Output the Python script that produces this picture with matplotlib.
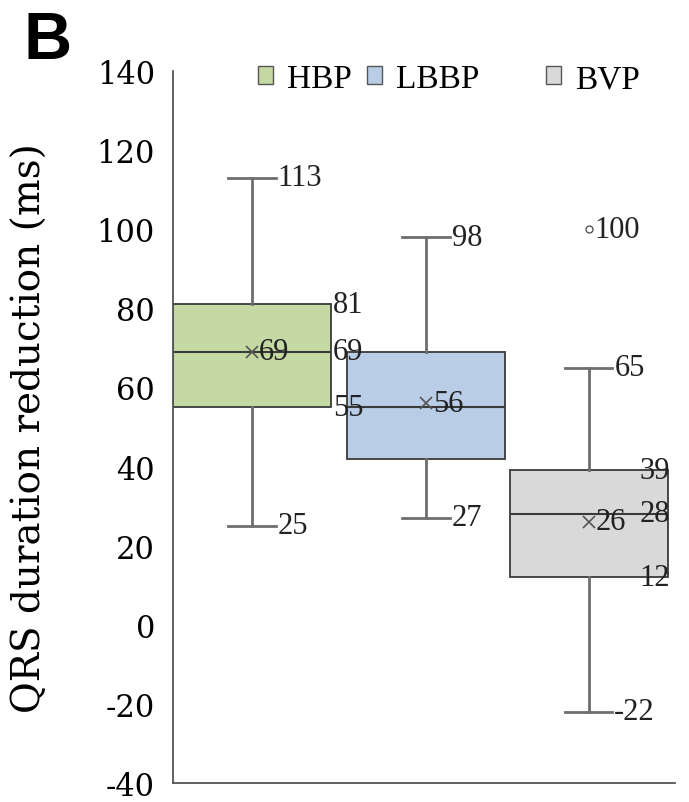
import matplotlib
matplotlib.use('Agg')
import matplotlib.pyplot as plt
from matplotlib.patches import Patch

# QRS duration reduction per pacing mode (ms)
groups = ['HBP', 'LBBP', 'BVP']
mins = [25, 27, -22]
q1s = [55, 42, 12]
medians = [69, 55, 28]
q3s = [81, 69, 39]
maxs = [113, 98, 65]
means = [69, 56, 26]
outliers = [[], [], [100]]

face_colors = ['#c4d9a3', '#b9cde6', '#d9d9d9']
positions = [0, 1.10, 2.13]
box_width = 1.0

plt.rcParams['font.family'] = 'DejaVu Serif'
plt.rcParams['axes.unicode_minus'] = False

fig = plt.figure(figsize=(6.89, 8.03), dpi=100)
ax = fig.add_axes([0.2511, 0.0237, 0.7286, 0.8867])

stats = []
for i, g in enumerate(groups):
    stats.append(dict(label=g, whislo=mins[i], q1=q1s[i], med=medians[i],
                      q3=q3s[i], whishi=maxs[i], mean=means[i],
                      fliers=outliers[i]))

bp = ax.bxp(stats, positions=positions, widths=box_width, capwidths=0.30,
            patch_artist=True, showmeans=True, showfliers=True,
            boxprops=dict(edgecolor='#3a3a3a', linewidth=1.3),
            medianprops=dict(color='#3a3a3a', linewidth=1.5),
            whiskerprops=dict(color='#6e6e6e', linewidth=2.0),
            capprops=dict(color='#6e6e6e', linewidth=2.0),
            meanprops=dict(marker='x', markeredgecolor='#555555',
                           markersize=9, markeredgewidth=1.2),
            flierprops=dict(marker='o', markerfacecolor='white',
                            markeredgecolor='#555555', markersize=5,
                            markeredgewidth=1.0))
for patch, c in zip(bp['boxes'], face_colors):
    patch.set_facecolor(c)

label_kw = dict(textcoords='offset points', va='center',
                fontsize=22, color='#222222', family='Liberation Serif')


def put(value, x, dx=1.5, ha='left'):
    ax.annotate(f'{value}', (x, value), xytext=(dx, 0), ha=ha, **label_kw)


cap_half = 0.15
for i, x in enumerate(positions):
    put(maxs[i], x + cap_half)
    put(mins[i], x + cap_half)
    put(means[i], x, dx=5)
    for v in outliers[i]:
        put(v, x, dx=4)

# quartile labels beside the HBP box, tucked inside the BVP box edge
for v in (q3s[0], medians[0], q1s[0]):
    put(v, positions[0] + box_width / 2)
for v in (q3s[2], medians[2], q1s[2]):
    put(v, positions[2] + box_width / 2, dx=1.5, ha='right')

ax.set_xlim(-0.5, 2.677)
ax.set_ylim(-40, 140)
ax.set_yticks(range(-40, 141, 20))
ax.set_xticks([])
ax.tick_params(axis='y', length=0, pad=13, labelsize=22)
for s in ('top', 'right'):
    ax.spines[s].set_visible(False)
for s in ('left', 'bottom'):
    ax.spines[s].set_color('#555555')
    ax.spines[s].set_linewidth(1.3)

ax.set_ylabel('QRS duration reduction (ms)', fontsize=28)
ax.yaxis.set_label_coords(-0.247, 0.50)

handles = [Patch(facecolor=c, edgecolor='#555555', linewidth=1.0)
           for c in face_colors]
leg_kw = dict(loc='center left', frameon=False, handlelength=0.45,
              handleheight=0.45, handletextpad=0.42, columnspacing=0.45,
              borderpad=0, borderaxespad=0,
              prop=dict(family='Liberation Serif', size=24))
fig.legend(handles[:2], groups[:2], ncol=2,
           bbox_to_anchor=(258 / 689, 1 - 80 / 803), **leg_kw)
fig.legend(handles[2:], groups[2:], ncol=1,
           bbox_to_anchor=(546 / 689, 1 - 80 / 803), **leg_kw)

fig.text(0.034, 0.986, 'B', fontsize=48, fontweight='bold',
         family='Liberation Sans', va='top', ha='left')

fig.savefig('out.png', dpi=100)
